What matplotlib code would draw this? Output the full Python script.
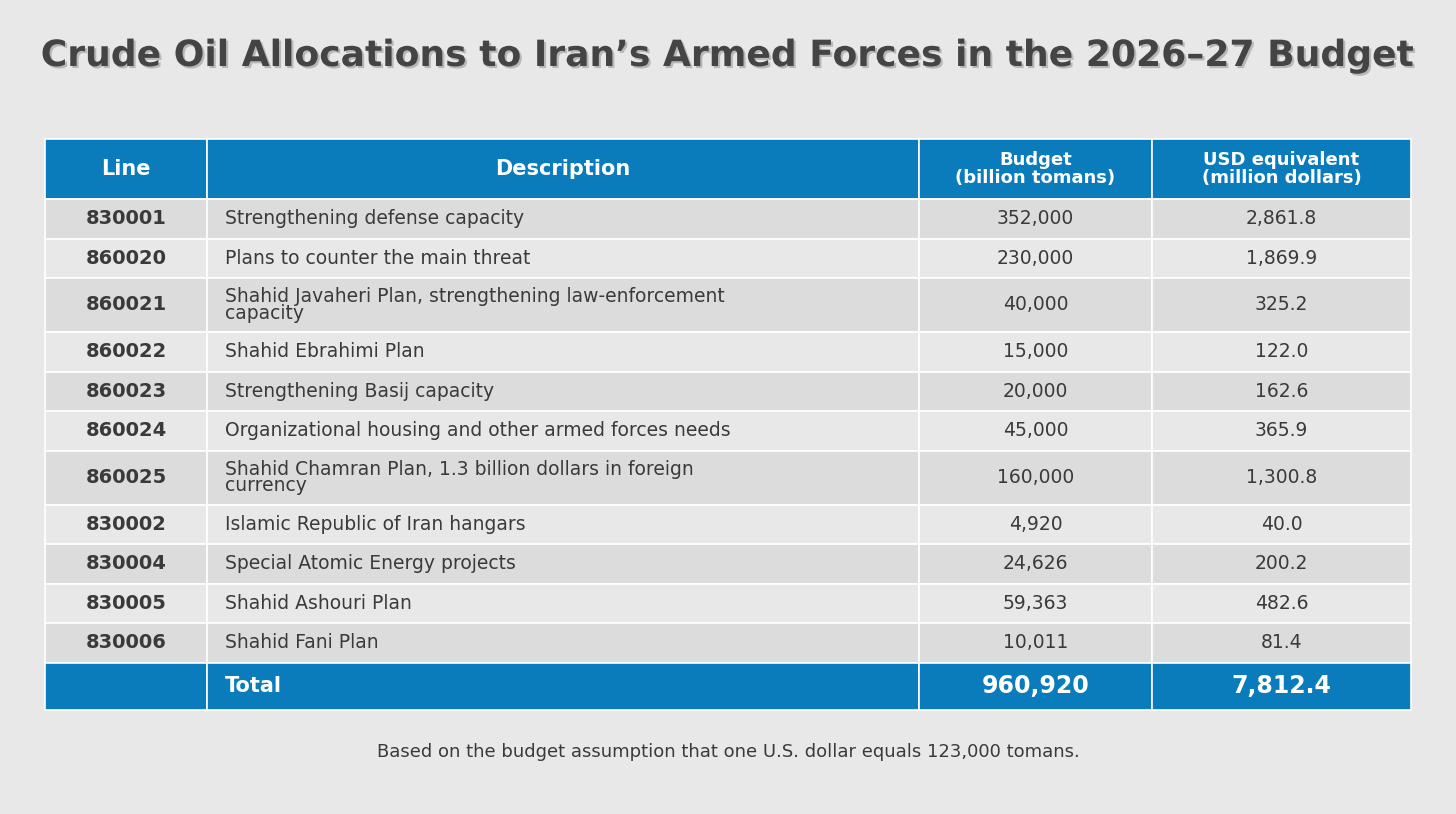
import matplotlib
matplotlib.use("Agg")
import matplotlib.pyplot as plt
from matplotlib.patches import Rectangle
import matplotlib.patheffects as pe

plt.rcParams['font.family'] = ['DejaVu Sans']

title = "Crude Oil Allocations to Iran’s Armed Forces in the 2026–27 Budget"
headers = ["Line", "Description", "Budget\n(billion tomans)", "USD equivalent\n(million dollars)"]
lines = ["830001", "860020", "860021", "860022", "860023", "860024", "860025",
         "830002", "830004", "830005", "830006"]
descriptions = ["Strengthening defense capacity",
                "Plans to counter the main threat",
                "Shahid Javaheri Plan, strengthening law-enforcement\ncapacity",
                "Shahid Ebrahimi Plan",
                "Strengthening Basij capacity",
                "Organizational housing and other armed forces needs",
                "Shahid Chamran Plan, 1.3 billion dollars in foreign\ncurrency",
                "Islamic Republic of Iran hangars",
                "Special Atomic Energy projects",
                "Shahid Ashouri Plan",
                "Shahid Fani Plan"]
budget = ["352,000", "230,000", "40,000", "15,000", "20,000", "45,000",
          "160,000", "4,920", "24,626", "59,363", "10,011"]
usd = ["2,861.8", "1,869.9", "325.2", "122.0", "162.6", "365.9",
       "1,300.8", "40.0", "200.2", "482.6", "81.4"]
total_label = "Total"
total_budget = "960,920"
total_usd = "7,812.4"
footnote = "Based on the budget assumption that one U.S. dollar equals 123,000 tomans."

BG = "#E8E8E8"; ALT = "#DCDCDC"; BLUE = "#0A7BBB"; TXT = "#3A3A3A"
W, H = 1456, 814
fig = plt.figure(figsize=(W/100, H/100), dpi=100, facecolor=BG)
ax = fig.add_axes([0, 0, 1, 1])
ax.set_xlim(0, W); ax.set_ylim(H, 0); ax.axis("off")

cols = [45, 207, 919, 1152, 1411]

ax.text(728, 56, title, ha="center", va="center", fontsize=26, fontweight="bold",
        color="#444444",
        path_effects=[pe.withSimplePatchShadow(offset=(1.5, -1.5), shadow_rgbFace="#999999", alpha=0.6)])

def cell(x0, x1, y0, y1, color):
    ax.add_patch(Rectangle((x0, y0), x1 - x0, y1 - y0, facecolor=color,
                           edgecolor="white", lw=1.2))

# header
y = 139
hh = 60
for i in range(4):
    cell(cols[i], cols[i+1], y, y + hh, BLUE)
    fs = 15 if i < 2 else 13
    ax.text((cols[i] + cols[i+1]) / 2, y + hh/2, headers[i], ha="center", va="center",
            fontsize=fs, fontweight="bold", color="white", linespacing=0.95)
y += hh

for r in range(len(lines)):
    h = 54 if "\n" in descriptions[r] else 39.5
    color = ALT if r % 2 == 0 else BG
    for i in range(4):
        cell(cols[i], cols[i+1], y, y + h, color)
    yc = y + h/2
    ax.text((cols[0]+cols[1])/2, yc, lines[r], ha="center", va="center",
            fontsize=14, fontweight="bold", color=TXT)
    ax.text(cols[1] + 18, yc, descriptions[r], ha="left", va="center",
            fontsize=13.5, color=TXT, linespacing=0.85)
    ax.text((cols[2]+cols[3])/2, yc, budget[r], ha="center", va="center",
            fontsize=13.5, color=TXT)
    ax.text((cols[3]+cols[4])/2, yc, usd[r], ha="center", va="center",
            fontsize=13.5, color=TXT)
    y += h

th = 47
for i in range(4):
    cell(cols[i], cols[i+1], y, y + th, BLUE)
yc = y + th/2
ax.text(cols[1] + 18, yc, total_label, ha="left", va="center", fontsize=15,
        fontweight="bold", color="white")
ax.text((cols[2]+cols[3])/2, yc, total_budget, ha="center", va="center", fontsize=17,
        fontweight="bold", color="white")
ax.text((cols[3]+cols[4])/2, yc, total_usd, ha="center", va="center", fontsize=17,
        fontweight="bold", color="white")

ax.text(728, 752, footnote, ha="center", va="center", fontsize=13, color=TXT)

fig.savefig("out.png", dpi=100, facecolor=BG)
